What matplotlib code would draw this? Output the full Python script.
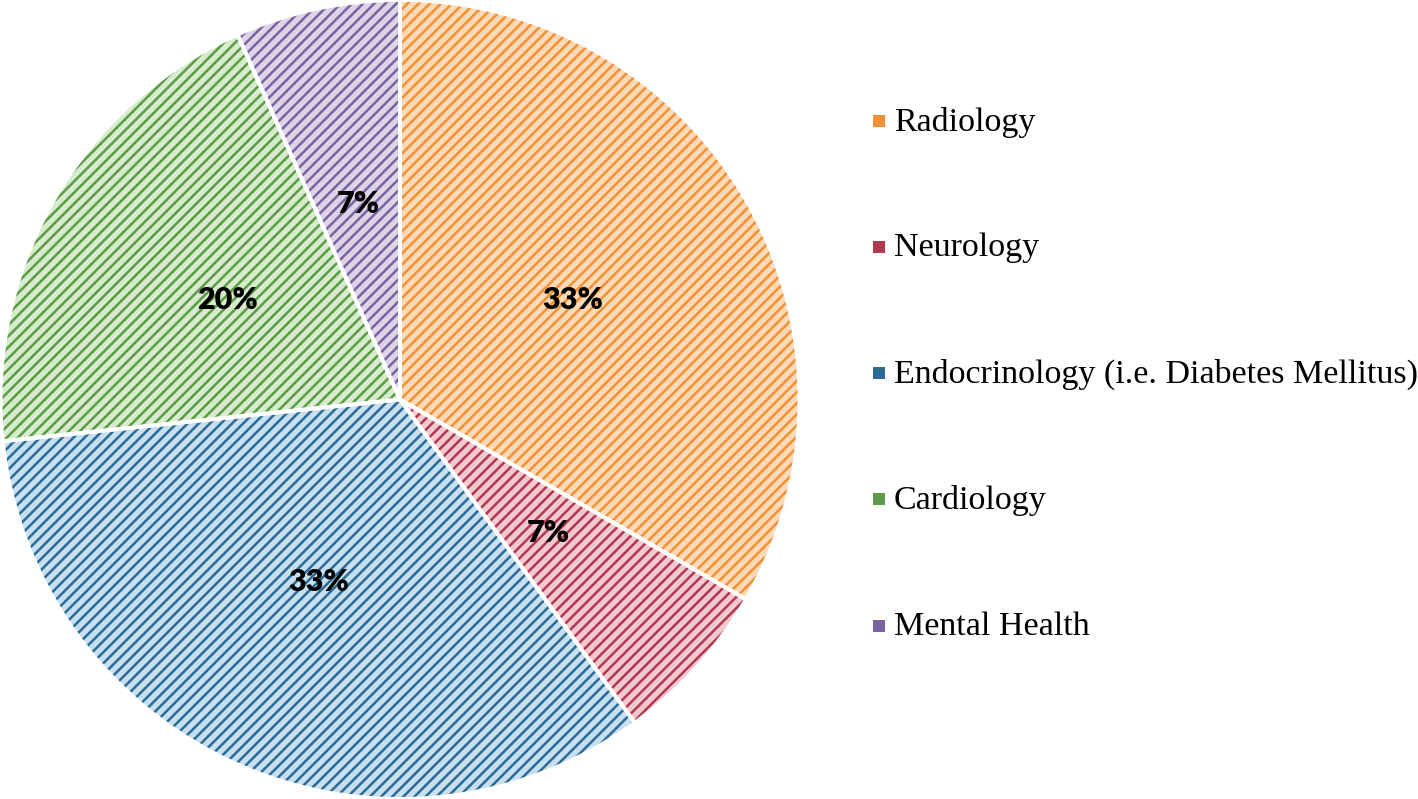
import matplotlib
matplotlib.use('Agg')
import matplotlib.pyplot as plt
from matplotlib.patches import Rectangle
import numpy as np

# data
categories = ['Radiology', 'Neurology', 'Endocrinology (i.e. Diabetes Mellitus)',
              'Cardiology', 'Mental Health']
counts = [5, 1, 5, 3, 1]
pct_labels = ['33%', '7%', '33%', '20%', '7%']

face_colors = ['#FCDAB8', '#F3C9D0', '#C6DFF1', '#D7ECCC', '#DDD4E8']
hatch_colors = ['#F39033', '#B2384F', '#2C6B93', '#5C9B47', '#7B63A0']

plt.rcParams['hatch.linewidth'] = 1.8

fig = plt.figure(figsize=(14.18, 7.99), dpi=100)
ax = fig.add_axes([0.0, 0.0, 800 / 1418, 1.0])

# hatched wedges (edge colour drives hatch colour)
wedges, _ = ax.pie(counts, startangle=90, counterclock=False, radius=1.0,
                   colors=face_colors,
                   wedgeprops=dict(linewidth=0, hatch='///'))
for w, hc in zip(wedges, hatch_colors):
    w.set_edgecolor(hc)
    w.set_linewidth(0)

# white separators on top
ax.pie(counts, startangle=90, counterclock=False, radius=1.0,
       colors=['none'] * len(counts),
       wedgeprops=dict(linewidth=2.8, edgecolor='white', fill=False))

# percent labels at mid radius
total = sum(counts)
start = 90.0
for c, lab in zip(counts, pct_labels):
    span = 360.0 * c / total
    mid = np.deg2rad(start - span / 2)
    t = ax.text(0.5 * np.cos(mid), 0.5 * np.sin(mid), lab, ha='center', va='center',
                fontsize=22, fontweight='heavy', family=['Lato', 'DejaVu Sans'],
                color='black')
    start -= span

ax.set_xlim(-1.0, 1.0)
ax.set_ylim(-1.0, 1.0)
ax.set_aspect('equal')
ax.axis('off')

# legend drawn by hand
W, H = 1418, 799
rows_y = [122, 248, 374, 500, 627]
for lab, fc, hc, y in zip(categories, face_colors, hatch_colors, rows_y):
    sq = Rectangle((873 / W, 1 - (y + 5) / H), 12 / W, 12 / H,
                   transform=fig.transFigure, facecolor=hc, edgecolor='none')
    fig.patches.append(sq)
    fig.text(894 / W, 1 - y / H, lab, ha='left', va='center', fontsize=24.5,
             family=['Liberation Serif', 'DejaVu Serif'], color='black')

fig.savefig('out.png', dpi=100)
